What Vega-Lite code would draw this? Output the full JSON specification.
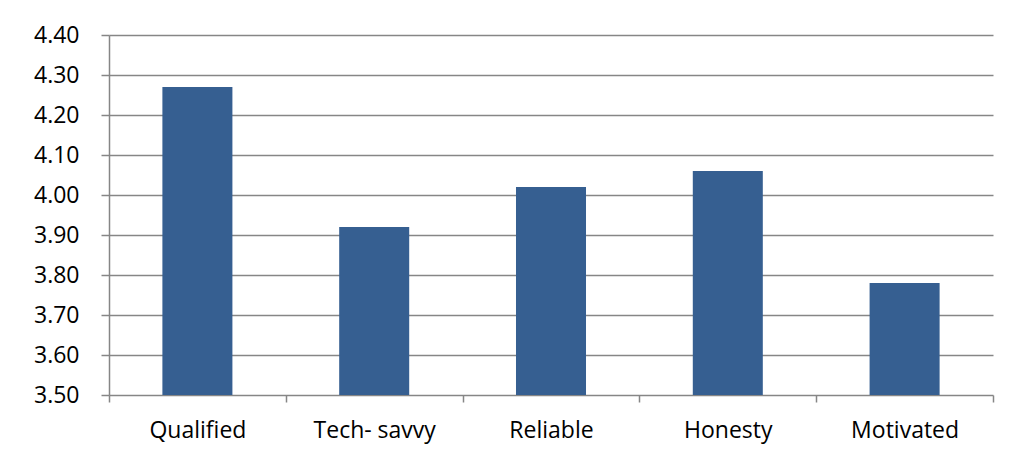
{
  "$schema": "https://vega.github.io/schema/vega-lite/v6.json",
  "width": 884,
  "height": 360,
  "autosize": {"type": "none"},
  "padding": {"left": 109, "top": 35, "right": 17, "bottom": 64},
  "background": "white",
  "data": {
    "values": [
      {"trait": "Qualified", "score": 4.27},
      {"trait": "Tech- savvy", "score": 3.92},
      {"trait": "Reliable", "score": 4.02},
      {"trait": "Honesty", "score": 4.06},
      {"trait": "Motivated", "score": 3.78}
    ]
  },
  "mark": {"type": "bar", "color": "#365F91", "width": {"band": 0.396}, "clip": true},
  "encoding": {
    "x": {
      "field": "trait",
      "type": "nominal",
      "sort": null,
      "scale": {"paddingInner": 0, "paddingOuter": 0},
      "axis": {
        "title": null,
        "labelAngle": 0,
        "tickBand": "extent",
        "tickSize": 7,
        "tickColor": "#868686",
        "tickWidth": 1.5,
        "domain": false,
        "labelPadding": 17,
        "labelFontSize": 23,
        "labelFont": "Open Sans",
        "labelColor": "#000000"
      }
    },
    "y": {
      "field": "score",
      "type": "quantitative",
      "scale": {"domain": [3.5, 4.4], "zero": false, "nice": false},
      "axis": {
        "title": null,
        "values": [3.5, 3.6, 3.7, 3.8, 3.9, 4.0, 4.1, 4.2, 4.3, 4.4],
        "format": ".2f",
        "tickSize": 8,
        "tickWidth": 1.5,
        "tickColor": "#868686",
        "domainColor": "#868686",
        "domainWidth": 1.5,
        "gridColor": "#868686",
        "grid": true,
        "gridWidth": 1.5,
        "labelPadding": 22,
        "labelFontSize": 23,
        "labelFont": "Open Sans",
        "labelColor": "#000000"
      }
    }
  },
  "config": {
    "view": {"stroke": null}
  }
}
